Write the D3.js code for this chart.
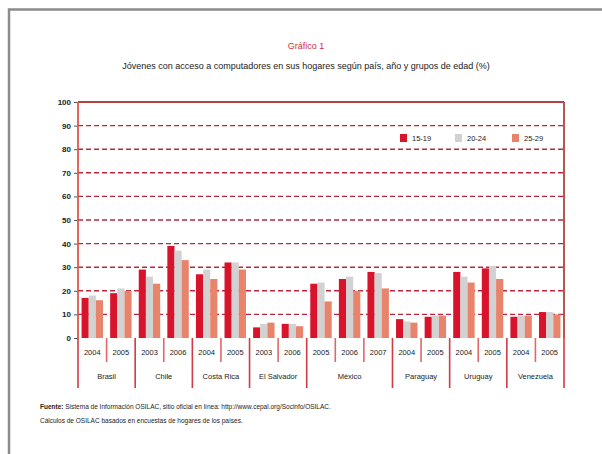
<!DOCTYPE html>
<html>
<head>
<meta charset="utf-8">
<script src="https://cdn.jsdelivr.net/npm/d3@7"></script>
<style>
  body { margin: 0; background: #fff; }
  text { font-family: "Liberation Sans Narrow", "Arial Narrow", sans-serif; }
</style>
</head>
<body>
<script>
// chart data
var countries = ["Brasil", "Chile", "Costa Rica", "El Salvador", "México", "Paraguay", "Uruguay", "Venezuela"];
var years = [["2004", "2005"], ["2003", "2006"], ["2004", "2005"], ["2003", "2006"],
             ["2005", "2006", "2007"], ["2004", "2005"], ["2004", "2005"], ["2004", "2005"]];
var seriesNames = ["15-19", "20-24", "25-29"];
var age15 = [17, 19, 29, 39, 27, 32, 4.5, 6, 23, 25, 28, 8, 9, 28, 29.5, 9, 11];
var age20 = [18, 21, 26, 37, 29, 32, 6, 6, 23.5, 26, 27.5, 7, 9.5, 26, 30.5, 9.5, 11];
var age25 = [16, 20, 23, 33, 25, 29, 6.5, 5, 15.5, 20, 21, 6.5, 9.5, 23.5, 25, 9.5, 10];
var yTicks = [0, 10, 20, 30, 40, 50, 60, 70, 80, 90, 100];

var colors = ["#d8142c", "#d2d2d2", "#e8846c"];

var svgWidth = 602, svgHeight = 454;
var margin = { top: 102, left: 78, right: 38, bottom: 116 };
var width = svgWidth - margin.left - margin.right;
var height = svgHeight - margin.top - margin.bottom;

var svg = d3.select("body").append("svg")
  .attr("width", svgWidth)
  .attr("height", svgHeight);

// outer grey frame
svg.append("path")
  .attr("d", "M9,454 V9.5 H602")
  .attr("fill", "none")
  .attr("stroke", "#8c8c8c")
  .attr("stroke-width", 2.5);

// titles
svg.append("text")
  .attr("x", 306).attr("y", 49)
  .attr("text-anchor", "middle")
  .style("font-size", "9px")
  .attr("fill", "#d0303a")
  .text("Gráfico 1");
svg.append("text")
  .attr("x", 306).attr("y", 69)
  .attr("text-anchor", "middle")
  .style("font-size", "9px")
  .attr("fill", "#222")
  .text("Jóvenes con acceso a computadores en sus hogares según país, año y grupos de edad (%)");

// flatten groups
var groups = [];
countries.forEach(function(c, i) {
  years[i].forEach(function(yr) {
    groups.push({ country: c, year: yr, key: c + yr });
  });
});
groups.forEach(function(g, i) {
  g.values = [age15[i], age20[i], age25[i]];
});

var chartGroup = svg.append("g")
  .attr("transform", `translate(${margin.left}, ${margin.top})`);

var xScale = d3.scaleBand()
  .domain(groups.map(d => d.key))
  .range([0, width])
  .padding(0);

var xInner = d3.scaleBand()
  .domain(seriesNames)
  .range([0, xScale.bandwidth()])
  .paddingInner(0)
  .paddingOuter(0.5);

var yScale = d3.scaleLinear()
  .domain([0, 100])
  .range([height, 0]);

// dashed gridlines
chartGroup.selectAll(".grid")
  .data(yTicks.filter(d => d > 0 && d < 100))
  .enter()
  .append("line")
  .attr("x1", 0).attr("x2", width)
  .attr("y1", d => yScale(d)).attr("y2", d => yScale(d))
  .attr("stroke", "#b8283a")
  .attr("stroke-width", 1.4)
  .attr("stroke-dasharray", "5,3");

// bars
var barGroups = chartGroup.selectAll(".bars")
  .data(groups)
  .enter()
  .append("g")
  .attr("transform", d => `translate(${xScale(d.key)},0)`);

barGroups.selectAll("rect")
  .data(d => d.values.map((v, i) => ({ s: seriesNames[i], v: v, i: i })))
  .enter()
  .append("rect")
  .attr("x", d => xInner(d.s))
  .attr("y", d => yScale(d.v))
  .attr("width", xInner.bandwidth())
  .attr("height", d => height - yScale(d.v))
  .attr("fill", d => colors[d.i]);

// top line and right border
chartGroup.append("line")
  .attr("x1", 0).attr("x2", width)
  .attr("y1", yScale(100)).attr("y2", yScale(100))
  .attr("stroke", "#b0443e").attr("stroke-width", 1.8);

// y axis
var leftAxis = d3.axisLeft(yScale).tickValues(yTicks).tickSize(4).tickPadding(3);
var yAxis = chartGroup.append("g").call(leftAxis);
yAxis.select(".domain").remove();
yAxis.selectAll(".tick line").attr("stroke", "#555");
yAxis.selectAll("text").style("font-size", "8px").attr("fill", "#222").style("font-weight", "bold");

// category separators below axis
var sepLines = [];
var idx = 0;
sepLines.push({ x: 0, tall: true });
years.forEach(function(ys, i) {
  ys.forEach(function(yr, j) {
    idx++;
    var last = j === ys.length - 1;
    sepLines.push({ x: xScale(groups[idx - 1].key) + xScale.bandwidth(), tall: last });
  });
});
chartGroup.selectAll(".sep")
  .data(sepLines)
  .enter()
  .append("line")
  .attr("x1", d => d.x).attr("x2", d => d.x)
  .attr("y1", height)
  .attr("y2", d => height + (d.tall ? 50 : 24))
  .attr("stroke", d => d.tall ? "#d23a44" : "#e0686a")
  .attr("stroke-width", 1.6);

// left axis line and right border
chartGroup.append("line")
  .attr("x1", 0).attr("x2", 0)
  .attr("y1", 0).attr("y2", height)
  .attr("stroke", "#e2574c").attr("stroke-width", 1.8);
chartGroup.append("line")
  .attr("x1", width).attr("x2", width)
  .attr("y1", 0).attr("y2", height)
  .attr("stroke", "#b0443e").attr("stroke-width", 1.8);

// year labels
chartGroup.selectAll(".yearLabel")
  .data(groups)
  .enter()
  .append("text")
  .attr("x", d => xScale(d.key) + xScale.bandwidth() / 2)
  .attr("y", height + 17)
  .attr("text-anchor", "middle")
  .style("font-size", "7.5px")
  .attr("fill", "#222")
  .text(d => d.year);

// country labels
var pos = 0;
var countryPos = countries.map(function(c, i) {
  var start = xScale(groups[pos].key);
  pos += years[i].length;
  var end = xScale(groups[pos - 1].key) + xScale.bandwidth();
  return { name: c, x: (start + end) / 2 };
});
chartGroup.selectAll(".countryLabel")
  .data(countryPos)
  .enter()
  .append("text")
  .attr("x", d => d.x)
  .attr("y", height + 41)
  .attr("text-anchor", "middle")
  .style("font-size", "7.5px")
  .attr("fill", "#222")
  .text(d => d.name);

// legend
var legendX = [400, 455, 512];
var legend = svg.selectAll(".legend")
  .data(seriesNames)
  .enter()
  .append("g")
  .attr("transform", (d, i) => `translate(${legendX[i]}, 134)`);
legend.append("rect")
  .attr("width", 7).attr("height", 8)
  .attr("fill", (d, i) => colors[i]);
legend.append("text")
  .attr("x", 12).attr("y", 7)
  .style("font-size", "7.5px")
  .attr("fill", "#222")
  .text(d => d);

// source notes
var note1 = svg.append("text")
  .attr("x", 40).attr("y", 409)
  .style("font-size", "6.5px")
  .attr("fill", "#222");
note1.append("tspan").style("font-weight", "bold").text("Fuente: ");
note1.append("tspan").text("Sistema de Información OSILAC, sitio oficial en línea: http://www.cepal.org/Socinfo/OSILAC.");
svg.append("text")
  .attr("x", 40).attr("y", 423)
  .style("font-size", "6.5px")
  .attr("fill", "#222")
  .text("Cálculos de OSILAC basados en encuestas de hogares de los países.");
</script>
</body>
</html>
